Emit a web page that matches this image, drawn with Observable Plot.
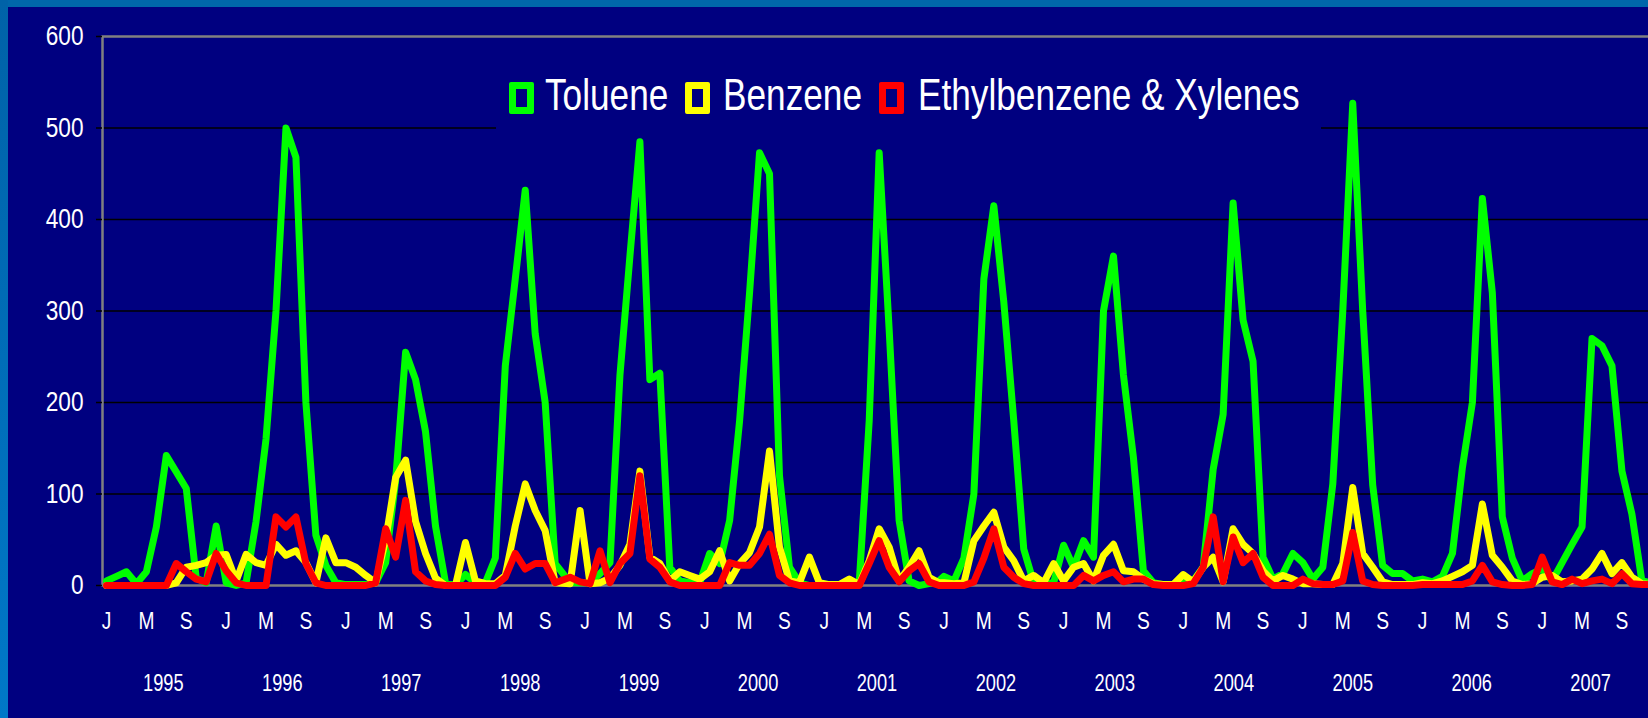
<!DOCTYPE html>
<html><head><meta charset="utf-8">
<script src="https://cdn.jsdelivr.net/npm/d3@7"></script>
<script src="https://cdn.jsdelivr.net/npm/@observablehq/plot@0.6"></script>
<style>
html,body{margin:0;padding:0;overflow:hidden;background:#000080;}
#wrap{position:relative;width:1648px;height:718px;overflow:hidden;background:#000080;}
#chart{position:absolute;left:0;top:0;width:1660px;}
#chart svg{max-width:none;display:block;}
.bt{position:absolute;left:0;top:0;width:1648px;height:7px;background:#0066aa;}
.bl{position:absolute;left:0;top:0;width:8px;height:718px;background:linear-gradient(#0062a8,#0078c8);}
#legend{position:absolute;left:496px;top:62px;width:825px;height:70px;background:#000080;font-family:"Liberation Sans",Arial,sans-serif;color:#fff;}
.sw{position:absolute;box-sizing:border-box;width:25px;height:32px;top:20px;border:7px solid;border-radius:2px;background:#000080;}
.lt{position:absolute;top:11px;font-size:44px;line-height:44px;white-space:nowrap;transform:scaleX(0.8);transform-origin:0 50%;}
</style>
</head><body>
<div id="wrap">
  <div id="chart"></div>
  <div id="legend"></div>
  <div class="bt"></div><div class="bl"></div>
</div>
<script>
const years = [1995,1996,1997,1998,1999,2000,2001,2002,2003,2004,2005,2006,2007];
const monthLetters = ["J","M","S"];
const yTicks = [0,100,200,300,400,500,600];
const seriesNames = ["Toluene","Benzene","Ethylbenzene & Xylenes"];
const seriesColors = ["#00ff00","#ffff00","#ff0000"];
// samples from Nov 1998 to Dec 2001 were taken mid-month (month index range)
const midMonthSamples = [46, 83];

const toluene = [
  5,10,15,2,15,64,142,124,106,8,3,65,
  3,0,3,70,160,300,500,468,200,55,22,3,
  1,1,1,3,25,115,255,225,168,65,3,0,
  12,3,3,30,240,335,432,275,200,24,3,3,
  3,13,25,230,360,485,225,232,20,5,3,3,
  35,24,71,180,320,473,450,120,20,3,0,0,
  0,1,1,3,180,473,280,71,5,0,2,5,
  10,5,30,100,335,415,310,180,40,3,2,3,
  44,20,49,31,300,360,230,140,16,3,1,1,
  3,5,20,127,187,418,290,245,31,7,13,35,
  25,7,20,111,300,527,300,110,22,13,13,5,
  7,4,10,35,129,200,423,320,75,30,5,13,
  18,5,25,45,64,270,262,240,125,78,5,3
];
const benzene = [
  0,0,0,0,0,0,0,3,20,22,25,33,
  34,5,34,25,22,45,33,38,25,3,52,25,
  25,20,11,3,50,118,137,70,35,8,0,0,
  47,5,2,2,11,65,111,82,60,3,2,82,
  2,3,8,22,45,125,31,24,5,15,11,7,
  15,38,5,24,36,64,147,42,5,3,31,3,
  1,1,7,1,27,62,42,5,20,38,9,3,
  3,2,3,49,65,80,42,27,5,11,3,24,
  5,20,24,5,33,45,16,15,7,2,1,1,
  12,4,20,31,4,62,45,35,16,5,11,7,
  2,2,1,1,24,107,35,20,4,1,1,1,
  3,2,5,10,15,22,89,33,20,5,1,2,
  9,11,4,5,7,18,35,13,25,9,2,1
];
const ethyl = [
  0,0,0,0,0,0,0,24,15,7,4,35,
  16,3,0,0,0,75,64,75,24,3,0,0,
  0,0,0,3,62,31,93,15,5,1,0,0,
  0,0,0,0,9,35,18,24,24,3,9,4,
  2,38,3,24,35,120,29,20,4,0,0,0,
  0,0,25,22,22,35,56,11,3,0,0,0,
  0,0,0,0,24,49,20,4,16,24,4,0,
  0,0,0,4,30,62,20,9,2,0,0,0,
  0,0,11,5,11,15,4,7,7,1,0,0,
  0,2,20,75,4,53,25,35,9,0,0,0,
  7,2,1,1,5,58,5,1,0,0,0,0,
  1,1,1,1,1,5,22,4,1,0,0,1,
  31,4,1,7,2,5,7,2,13,2,1,1
];

const seriesValues = [toluene, benzene, ethyl];
const nMonths = toluene.length;
const monthTicks = d3.range(0, nMonths, 4);
const font = '"Liberation Sans",Arial,sans-serif';
const sampleTime = i => i + (i >= midMonthSamples[0] && i <= midMonthSamples[1] ? 0.5 : 0);

const lineMarks = seriesValues.map((vals, k) =>
  Plot.line(vals.map((v, i) => ({t: sampleTime(i), v})), {
    x: "t", y: "v", stroke: seriesColors[k], strokeWidth: 7,
    strokeLinejoin: "round", strokeLinecap: "round"
  })
);

const chart = Plot.plot({
  width: 1660, height: 718,
  marginLeft: 102, marginRight: 8, marginTop: 36, marginBottom: 133,
  x: {domain: [0, nMonths - 1], range: [106, 106 + 9.97 * (nMonths - 1)], axis: null},
  y: {domain: [0, 600], axis: null, label: null},
  style: {background: "transparent", fontFamily: font, color: "white", overflow: "visible"},
  marks: [
    Plot.gridY(yTicks.filter(t => t > 0 && t < 600), {stroke: "black", strokeOpacity: 1, strokeWidth: 1.5}),
    Plot.frame({stroke: "#808080", strokeWidth: 2.5}),
    Plot.axisY(yTicks, {tickSize: 6, tickPadding: 13, stroke: "black", strokeWidth: 1.5, fill: "white", fontSize: 27, label: null, className: "ylab"}),
    Plot.text(monthTicks, {x: d => d, text: d => monthLetters[(d / 4) % 3], frameAnchor: "bottom", dy: 43, fill: "white", fontSize: 24, className: "mlab"}),
    Plot.text(years, {x: (d, k) => k * 12 + 5.7 - 0.07 * k, text: d => String(d), frameAnchor: "bottom", dy: 105, fill: "white", fontSize: 24, className: "ylab2"}),
    ...lineMarks
  ]
});
document.getElementById("chart").appendChild(chart);

// condense text horizontally (narrow face look)
function condense(sel, k) {
  chart.querySelectorAll(sel).forEach(t => {
    let tr = t.getAttribute("transform") || "";
    const x = t.getAttribute("x");
    if (x !== null) { tr += ` translate(${x},0)`; t.removeAttribute("x"); }
    t.setAttribute("transform", tr + ` scale(${k},1)`);
  });
}
condense(".ylab text", 0.84);
condense(".mlab text", 0.8);
condense(".ylab2 text", 0.76);

const legend = document.getElementById("legend");
const swLeft = [13, 189, 383];
const txLeft = [49, 227, 422];
seriesNames.forEach((name, k) => {
  const sw = document.createElement("div");
  sw.className = "sw";
  sw.style.borderColor = seriesColors[k];
  sw.style.left = swLeft[k] + "px";
  legend.appendChild(sw);
  const t = document.createElement("div");
  t.className = "lt";
  t.style.left = txLeft[k] + "px";
  t.textContent = name;
  legend.appendChild(t);
});
</script>
</body></html>
